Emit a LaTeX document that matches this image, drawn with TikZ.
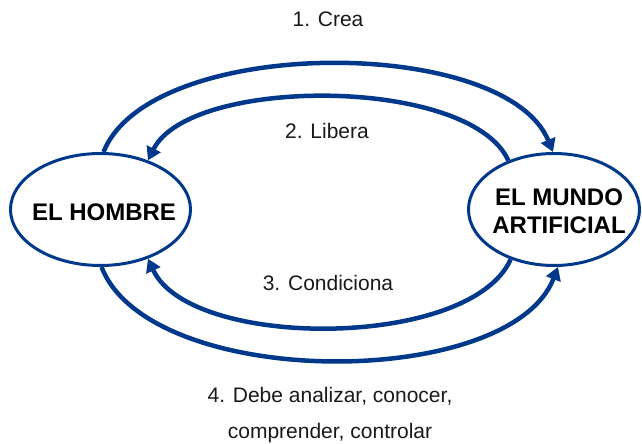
\documentclass[tikz,border=0pt]{standalone}
\usepackage{fontspec}
\setmainfont{Liberation Sans}
\usetikzlibrary{shapes.geometric,arrows.meta}
\definecolor{arcblue}{RGB}{0,56,140}
\begin{document}
\begin{tikzpicture}[x=1pt,y=-1pt,
  world/.style={ellipse,draw=arcblue,line width=3pt,inner sep=0pt,minimum height=112pt,
    font=\fontsize{24}{28}\selectfont\bfseries},
  flow/.style={draw=arcblue,line width=4.5pt,-{Triangle[length=13pt,width=15pt]}},
  lbl/.style={font=\fontsize{21}{36.5}\selectfont,text=black!90,anchor=base,align=center}]
\useasboundingbox (0,0) rectangle (642,444);
\node[world,minimum width=180pt] (hombre) at (100.5,209.5)
  {\makebox[0pt]{\hspace*{7pt}\raisebox{-10.5pt}[0pt][0pt]{EL HOMBRE}}};
\node[world,minimum width=171pt] (mundo) at (554,209.5)
  {\makebox[0pt]{\hspace*{10pt}\raisebox{4.5pt}[0pt][0pt]{\begin{tabular}[t]{@{}c@{}}EL MUNDO\\ARTIFICIAL\end{tabular}}}};
% 1. Crea
\draw[flow] (hombre.87) .. controls (150,35) and (505,35) .. (mundo.91);
% 2. Libera
\draw[flow] (mundo.133) .. controls (470,76) and (190,76) .. (hombre.46);
% 3. Condiciona
\draw[flow] (mundo.229) .. controls (470,350) and (190,350) .. (hombre.-46);
% 4. Debe analizar
\draw[flow] (hombre.-89) .. controls (150,391) and (510,391) .. (mundo.-86);
\node[lbl] (crea) at (328,27) {1. Crea};
\node[lbl] (libera) at (327,138) {2. Libera};
\node[lbl] (condiciona) at (328,290) {3. Condiciona};
\node[lbl] (debe) at (330,438.5) {4. Debe analizar, conocer,\\comprender, controlar};
\end{tikzpicture}
\end{document}
